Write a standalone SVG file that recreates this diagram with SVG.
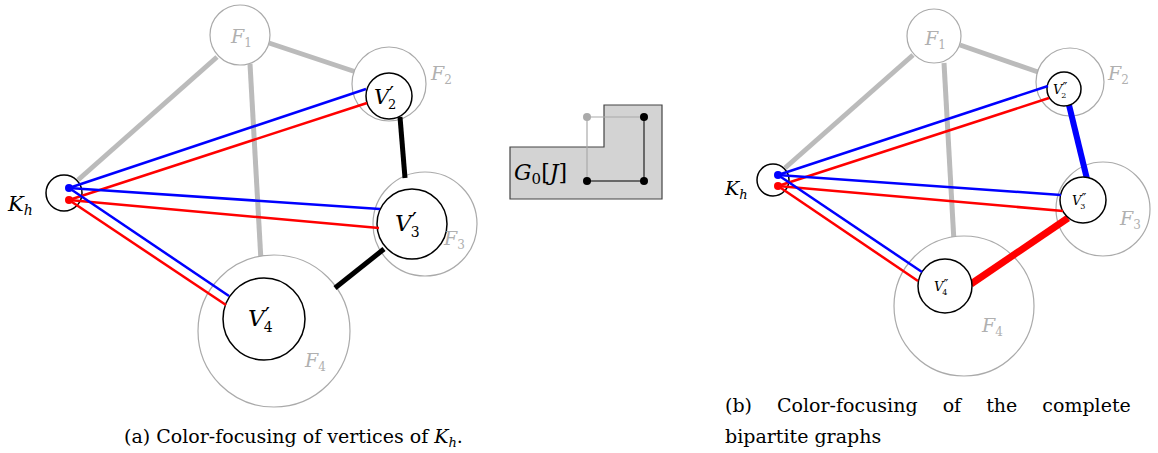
<svg xmlns="http://www.w3.org/2000/svg" width="1158" height="453" viewBox="0 0 1158 453" font-family="'DejaVu Serif', serif">
<style>
.f{fill:#fff;stroke:#aaa;stroke-width:1.2}
.v{fill:#fff;stroke:#000;stroke-width:1.5}
.g{stroke:#bbb;stroke-width:5;fill:none}
.b{stroke:#0000ff;stroke-width:2.5}
.r{stroke:#ff0000;stroke-width:2.5}
text{font-family:"DejaVu Serif",serif}
.it{font-style:italic}
.gl{fill:#b0b0b0}
.cap{font-size:19px;fill:#000}
</style>
<rect width="1158" height="453" fill="#fff"/>
<g id="left-edges-gray">
<line class="g" x1="217" y1="57" x2="78" y2="180"/>
<line class="g" x1="269" y1="43" x2="356" y2="72"/>
<line class="g" x1="250" y1="64" x2="261" y2="261"/>
</g>
<g id="left-F1"><circle class="f" cx="240" cy="35" r="30"/><text class="it gl" x="231" y="43" font-size="19">F<tspan font-size="12" dy="4" font-style="normal">1</tspan></text></g>
<g id="left-F2"><circle class="f" cx="389" cy="84" r="37"/><text class="it gl" x="431" y="80" font-size="19">F<tspan font-size="12" dy="4" font-style="normal">2</tspan></text></g>
<g id="left-F3"><circle class="f" cx="425" cy="224" r="52"/></g>
<g id="left-F4"><circle class="f" cx="274" cy="331" r="76"/><text class="it gl" x="305" y="367" font-size="19">F<tspan font-size="12" dy="4" font-style="normal">4</tspan></text></g>
<g id="left-edges-black">
<line x1="400" y1="117" x2="405" y2="178" stroke="#000" stroke-width="5"/>
<line x1="384" y1="249" x2="335" y2="288" stroke="#000" stroke-width="5"/>
</g>
<g id="left-V2"><circle class="v" cx="389" cy="96" r="23"/><text class="it" x="374" y="104" font-size="21">V<tspan font-style="normal" dy="-3" font-size="21">′</tspan><tspan font-style="normal" font-size="13" dx="-6" dy="8">2</tspan></text></g>
<g id="left-V3"><circle class="v" cx="412" cy="224" r="35"/><text class="it" x="395" y="231" font-size="23">V<tspan font-style="normal" dy="-3" font-size="23">′</tspan><tspan font-style="normal" font-size="14" dx="-6" dy="9">3</tspan></text></g>
<text class="it gl" x="444" y="245" font-size="19">F<tspan font-size="12" dy="4" font-style="normal">3</tspan></text>
<g id="left-V4"><circle class="v" cx="264" cy="319" r="41"/><text class="it" x="248" y="326" font-size="23">V<tspan font-style="normal" dy="-3" font-size="23">′</tspan><tspan font-style="normal" font-size="14" dx="-6" dy="9">4</tspan></text></g>
<g id="left-Kh"><circle class="v" cx="64" cy="193" r="18"/><text class="it" x="8" y="211" font-size="21">K<tspan font-size="14" dy="4">h</tspan></text></g>
<g id="left-connectors">
<line class="b" x1="69" y1="188" x2="366" y2="89"/>
<line class="r" x1="69" y1="200" x2="367" y2="103"/>
<line class="b" x1="69" y1="188" x2="380" y2="209"/>
<line class="r" x1="69" y1="200" x2="379" y2="228"/>
<line class="b" x1="69" y1="188" x2="229" y2="296"/>
<line class="r" x1="69" y1="200" x2="226" y2="305"/>
<circle cx="69" cy="188" r="4" fill="#0000ff"/>
<circle cx="69" cy="200" r="4" fill="#ff0000"/>
</g>
<g id="G0J">
<polygon points="510,147 604,147 604,105 662,105 662,199 510,199" fill="#d3d3d3" stroke="#444" stroke-width="1.2"/>
<line x1="587" y1="117" x2="644" y2="117" stroke="#aaa" stroke-width="1.2"/>
<line x1="587" y1="117" x2="587" y2="181" stroke="#aaa" stroke-width="1.2"/>
<line x1="644" y1="117" x2="644" y2="181" stroke="#444" stroke-width="1.5"/>
<line x1="587" y1="181" x2="644" y2="181" stroke="#444" stroke-width="1.5"/>
<circle cx="587" cy="117" r="4" fill="#aaa"/>
<circle cx="644" cy="117" r="4" fill="#000"/>
<circle cx="587" cy="181" r="4" fill="#000"/>
<circle cx="644" cy="181" r="4" fill="#000"/>
<text x="514" y="180" font-size="22"><tspan font-style="italic">G</tspan><tspan font-size="15" dy="4">0</tspan><tspan dy="-4">[</tspan><tspan font-style="italic">J</tspan>]</text>
</g>
<g id="right-edges-gray">
<line class="g" x1="785" y1="168" x2="913" y2="55"/>
<line class="g" x1="960" y1="45" x2="1038" y2="72"/>
<line class="g" x1="944" y1="63" x2="954" y2="242"/>
</g>
<g id="right-F1"><circle class="f" cx="934" cy="36" r="27"/><text class="it gl" x="925" y="45" font-size="19">F<tspan font-size="12" dy="4" font-style="normal">1</tspan></text></g>
<g id="right-F2"><circle class="f" cx="1070" cy="82" r="34"/><text class="it gl" x="1108" y="80" font-size="19">F<tspan font-size="12" dy="4" font-style="normal">2</tspan></text></g>
<g id="right-F3"><circle class="f" cx="1103" cy="209" r="47"/><text class="it gl" x="1120" y="225" font-size="19">F<tspan font-size="12" dy="4" font-style="normal">3</tspan></text></g>
<g id="right-F4"><circle class="f" cx="964" cy="306" r="70"/><text class="it gl" x="982" y="332" font-size="19">F<tspan font-size="12" dy="4" font-style="normal">4</tspan></text></g>
<g id="right-edges-colored">
<line x1="1069" y1="105" x2="1087" y2="179" stroke="#0000ff" stroke-width="6"/>
<line x1="1068" y1="218" x2="971" y2="284" stroke="#ff0000" stroke-width="7"/>
</g>
<g id="right-V2"><circle class="v" cx="1064" cy="89" r="17"/><text class="it" x="1053" y="94" font-size="13">V<tspan font-style="normal" dy="-2" font-size="13">″</tspan><tspan font-style="normal" font-size="8" dx="-6" dy="6">2</tspan></text></g>
<g id="right-V3"><circle class="v" cx="1083" cy="200" r="23"/><text class="it" x="1072" y="205" font-size="13">V<tspan font-style="normal" dy="-2" font-size="13">″</tspan><tspan font-style="normal" font-size="8" dx="-6" dy="6">3</tspan></text></g>
<g id="right-V4"><circle class="v" cx="945" cy="286" r="27"/><text class="it" x="934" y="291" font-size="13">V<tspan font-style="normal" dy="-2" font-size="13">″</tspan><tspan font-style="normal" font-size="8" dx="-6" dy="6">4</tspan></text></g>
<g id="right-Kh"><circle class="v" cx="773" cy="180" r="16"/><text class="it" x="725" y="195" font-size="19">K<tspan font-size="13" dy="4">h</tspan></text></g>
<g id="right-connectors">
<line class="b" x1="778" y1="175" x2="1048" y2="86"/>
<line class="r" x1="778" y1="186" x2="1049" y2="98"/>
<line class="b" x1="778" y1="175" x2="1061" y2="195"/>
<line class="r" x1="778" y1="186" x2="1063" y2="211"/>
<line class="b" x1="778" y1="175" x2="922" y2="272"/>
<line class="r" x1="778" y1="186" x2="918" y2="281"/>
<circle cx="778" cy="175" r="4" fill="#0000ff"/>
<circle cx="778" cy="186" r="4" fill="#ff0000"/>
</g>
<text class="cap" x="124" y="443">(a) Color-focusing of vertices of <tspan font-style="italic">K</tspan><tspan font-style="italic" font-size="13" dy="4">h</tspan><tspan dy="-4">.</tspan></text>
<text class="cap" x="725" y="412" word-spacing="19">(b) Color-focusing of the complete</text>
<text class="cap" x="725" y="443">bipartite graphs</text>
</svg>
